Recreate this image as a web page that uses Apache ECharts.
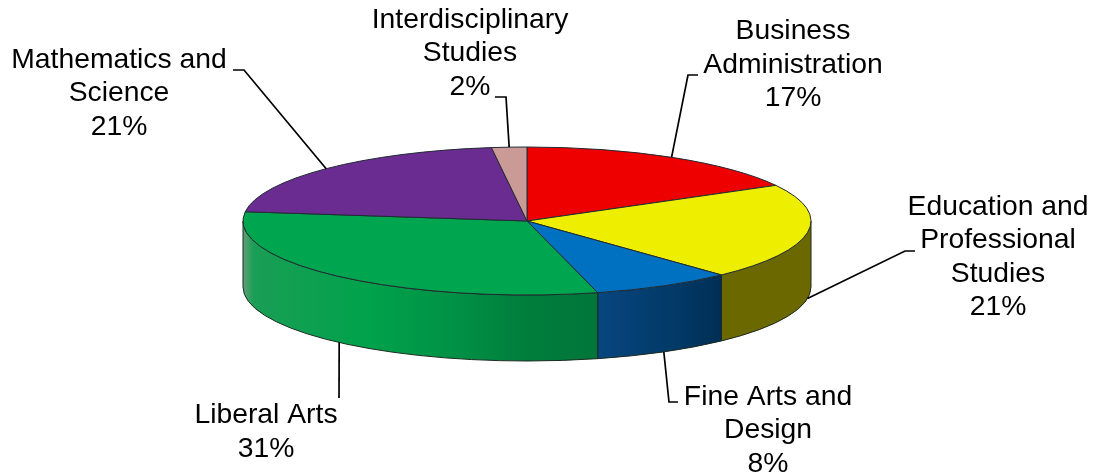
<!DOCTYPE html>
<html>
<head>
<meta charset="utf-8">
<style>
  html, body { margin: 0; padding: 0; background: #fff; }
  #chart { width: 1094px; height: 474px; }
</style>
<script src="https://cdn.jsdelivr.net/npm/echarts@6/dist/echarts.min.js"></script>
</head>
<body>
<div id="chart"></div>
<script>
const categories = [
  'Business\nAdministration',
  'Education and\nProfessional\nStudies',
  'Fine Arts and\nDesign',
  'Liberal Arts',
  'Mathematics and\nScience',
  'Interdisciplinary\nStudies'
]
const values = [17, 21, 8, 31, 21, 2]

const topColors = ['#ee0000', '#eeee00', '#0070c0', '#00a64f', '#6a2c91', '#c99a96']

// side wall colours, left to right
const sideStops = [
  null,
  [[0, '#6b6800'], [1, '#6b6800']],
  [[0, '#07467f'], [0.6, '#023a68'], [1, '#002f55']],
  [[0, '#5f9f78'], [0.03, '#1a9e55'], [0.35, '#00a24c'], [0.6, '#009145'], [0.8, '#007d3b'], [1, '#00763a']],
  null,
  null
]

// label centre, leader elbow, leader end
const labelAt = [[793, 65], [998, 257], [768, 430.5], [266, 432], [119, 93.5], [470, 53.5]]
const leaderAt = [
  [[688, 75], [698, 75]],
  [[905, 251], [915, 251]],
  [[669, 402], [678, 402]],
  [[339, 398]],
  [[244, 70], [233, 70]],
  [[506, 97], [495, 97]]
]

const cx = 527
const cy = 221
const rx = 284
const ry = 74
const depth = 66
const total = values.reduce((a, b) => a + b, 0)

// angle is clockwise from 12 o'clock
function ptAt(a, dy = 0) {
  return [cx + rx * Math.sin(a), cy - ry * Math.cos(a) + dy]
}

function renderSlice(params, api) {
  const i = params.dataIndex
  const startVal = values.slice(0, i).reduce((a, b) => a + b, 0)
  const a0 = startVal / total * Math.PI * 2
  const a1 = (startVal + api.value(0)) / total * Math.PI * 2
  const mid = (a0 + a1) / 2
  const p0 = ptAt(a0)
  const p1 = ptAt(a1)
  const large = a1 - a0 > Math.PI ? 1 : 0
  const children = []

  // side wall, only the front half of the ellipse shows
  const s0 = Math.max(a0, Math.PI / 2)
  const s1 = Math.min(a1, Math.PI * 1.5)
  if (s1 > s0) {
    const t0 = ptAt(s0)
    const t1 = ptAt(s1)
    const b0 = ptAt(s0, depth)
    const b1 = ptAt(s1, depth)
    const stops = sideStops[i].map(s => ({ offset: s[0], color: s[1] }))
    children.push({
      type: 'path',
      shape: {
        pathData: `M${t0[0]} ${t0[1]}A${rx} ${ry} 0 0 1 ${t1[0]} ${t1[1]}L${b1[0]} ${b1[1]}A${rx} ${ry} 0 0 0 ${b0[0]} ${b0[1]}Z`
      },
      style: {
        fill: new echarts.graphic.LinearGradient(t1[0], 0, t0[0], 0, stops, true),
        stroke: '#1c2a20',
        lineWidth: 1
      }
    })
  }

  // top face
  children.push({
    type: 'path',
    shape: {
      pathData: `M${cx} ${cy}L${p0[0]} ${p0[1]}A${rx} ${ry} 0 ${large} 1 ${p1[0]} ${p1[1]}Z`
    },
    style: { fill: topColors[i], stroke: '#222a33', lineWidth: 1, lineJoin: 'round' }
  })

  // leader line starts on the rim at mid angle, bottom rim for the front slices
  const front = Math.cos(mid) < 0
  const start = ptAt(mid, front ? depth : 0)
  children.push({
    type: 'polyline',
    shape: { points: [start].concat(leaderAt[i]) },
    style: { fill: null, stroke: '#000', lineWidth: 1.7 }
  })

  children.push({
    type: 'text',
    style: {
      x: labelAt[i][0],
      y: labelAt[i][1],
      text: categories[i] + '\n' + api.value(0) + '%',
      fill: '#000',
      font: '28.3px "Liberation Sans", Arial, sans-serif',
      lineHeight: 33.4,
      align: 'center',
      verticalAlign: 'middle'
    }
  })

  return { type: 'group', children }
}

const chart = echarts.init(document.getElementById('chart'), null, { renderer: 'canvas' })
chart.setOption({
  animation: false,
  series: [{
    type: 'custom',
    coordinateSystem: 'none',
    renderItem: renderSlice,
    data: values.map(v => [v]),
    silent: true
  }]
})
</script>
</body>
</html>
